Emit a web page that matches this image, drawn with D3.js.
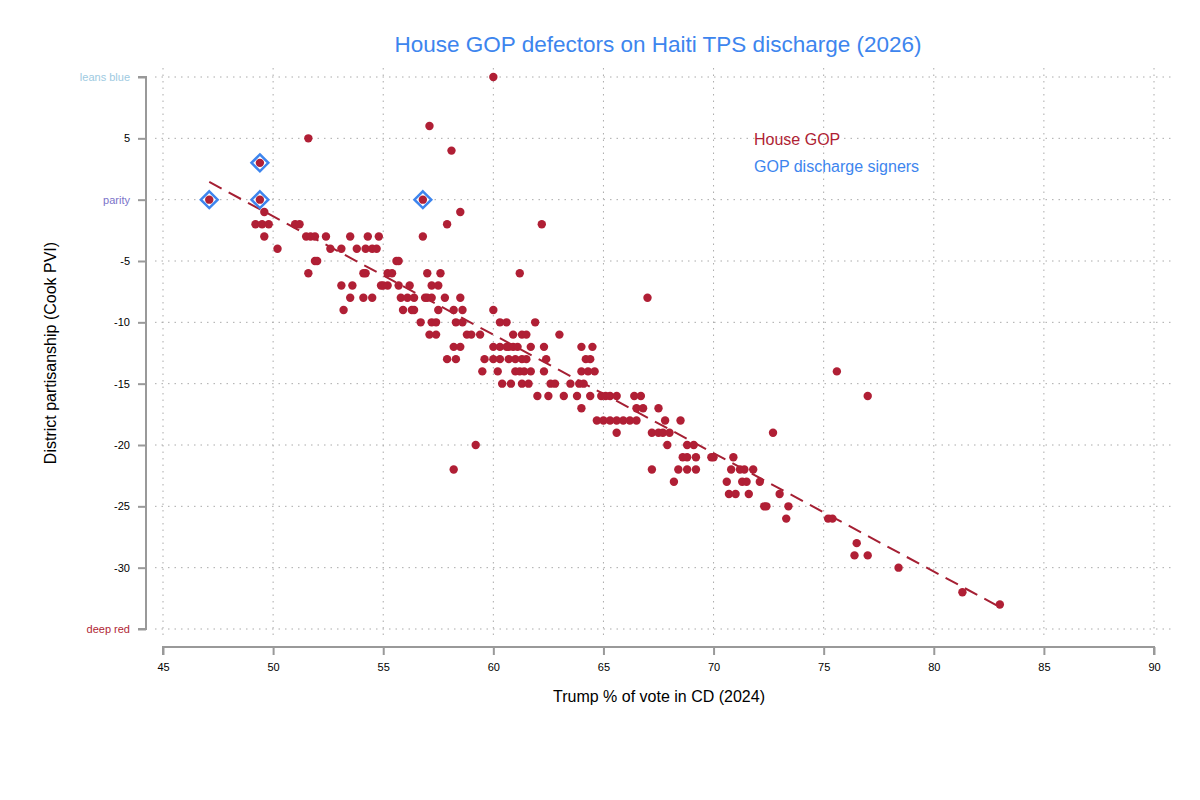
<!DOCTYPE html>
<html><head><meta charset="utf-8">
<script src="https://cdn.jsdelivr.net/npm/d3@7"></script>
<style>body{margin:0;background:#fff;font-family:"Helvetica Neue",Arial,"Liberation Sans",sans-serif}</style>
</head><body><svg id="c" width="1200" height="800"></svg>
<script>
// [PVI, list of Trump % values]
const rows = [
 [10,[60.0]],[6,[57.1]],[5,[51.6]],[4,[58.1]],[3,[49.4]],
 [0,[47.1,49.4,56.8]],
 [-1,[49.6,58.5]],
 [-2,[49.2,49.5,49.8,51.0,51.2,57.9,62.2]],
 [-3,[49.6,51.5,51.7,51.9,52.4,53.5,54.3,54.8,56.8]],
 [-4,[50.2,52.6,53.1,53.8,54.2,54.5,54.7]],
 [-5,[51.9,52.0,55.6,55.7]],
 [-6,[51.6,54.1,54.2,55.2,55.4,57.0,57.6,61.2]],
 [-7,[53.1,53.6,54.9,55.0,55.2,55.7,56.2,57.2,57.5]],
 [-8,[53.5,54.1,54.5,55.8,56.1,56.4,56.9,57.0,57.2,57.8,58.5,67.0]],
 [-9,[53.2,55.9,56.3,56.4,57.5,58.2,58.6,60.0]],
 [-10,[56.7,57.2,57.4,58.3,58.6,60.3,60.6,61.9]],
 [-11,[57.1,57.4,58.8,59.0,59.4,60.9,61.3,61.5,63.0]],
 [-12,[58.2,58.5,60.0,60.3,60.6,60.7,60.9,61.1,61.7,62.3,64.0,64.5]],
 [-13,[57.9,58.3,59.6,60.0,60.3,60.7,61.0,61.3,61.5,62.4,64.2,64.4]],
 [-14,[59.5,60.2,61.0,61.2,61.4,61.7,62.3,64.0,64.3,64.6,75.6]],
 [-15,[60.4,60.8,61.3,61.6,62.6,62.8,63.5,63.9,64.1]],
 [-16,[62.0,62.5,63.2,63.8,64.4,64.9,65.1,65.3,65.6,66.4,66.7,77.0]],
 [-17,[64.0,66.5,66.8,67.5]],
 [-18,[64.7,65.0,65.3,65.6,65.9,66.2,66.5,67.8,68.5]],
 [-19,[65.6,67.2,67.5,67.7,68.0,72.7]],
 [-20,[59.2,67.9,68.8,69.1]],
 [-21,[68.6,68.8,69.2,69.9,70.0,70.9]],
 [-22,[58.2,67.2,68.4,68.8,69.2,70.8,71.2,71.4,71.8]],
 [-23,[68.2,70.6,71.3,71.5,72.1]],
 [-24,[70.7,71.0,71.6,73.0]],
 [-25,[72.3,72.4,73.4]],
 [-26,[73.3,75.2,75.4]],
 [-28,[76.5]],[-29,[76.4,77.0]],[-30,[78.4]],[-32,[81.3]],[-33,[83.0]]
];
const signers = [[47.1,0],[49.4,0],[49.4,3],[56.8,0]];
const xTicks = [45,50,55,60,65,70,75,80,85,90];
const yTicks = [10,5,0,-5,-10,-15,-20,-25,-30,-35];
const yLabels = {10:"leans blue",0:"parity",[-35]:"deep red"};
const yLabelColors = {10:"#9ecae1",0:"#7b73c9",[-35]:"#b01f35"};

const pts = [];
rows.forEach(([y,xs])=>xs.forEach(x=>pts.push({x,y})));
const red="#b01f35", blue="#3d85ee";
const svg=d3.select("#c");
const x=d3.scaleLinear().domain([45,90]).range([163,1154]);
const y=d3.scaleLinear().domain([10,-35]).range([77,629]);

svg.append("g").selectAll("line").data(yTicks).join("line")
 .attr("x1",155).attr("x2",1172).attr("y1",d=>y(d)).attr("y2",d=>y(d))
 .attr("stroke","#aaa").attr("stroke-dasharray","1.5,5");
svg.append("g").selectAll("line").data(xTicks).join("line")
 .attr("y1",68).attr("y2",640).attr("x1",d=>x(d)).attr("x2",d=>x(d))
 .attr("stroke","#aaa").attr("stroke-dasharray","1.5,5");

const ya=svg.append("g").attr("transform","translate(146,0)")
 .call(d3.axisLeft(y).tickValues(yTicks).tickSize(8).tickFormat(d=>yLabels[d]||d));
ya.select(".domain").attr("stroke","#999").attr("stroke-width",2).attr("d",`M-8,${y(10)}H0V${y(-35)}H-8`);
ya.selectAll(".tick line").attr("stroke","#999").attr("stroke-width",2);
ya.selectAll("text").attr("font-size",11).attr("x",-16).attr("font-family","inherit")
 .attr("fill",d=>yLabelColors[d]||"#000");
const xa=svg.append("g").attr("transform","translate(0,647)")
 .call(d3.axisBottom(x).tickValues(xTicks).tickSize(8));
xa.select(".domain").attr("stroke","#999").attr("stroke-width",2).attr("d",`M${x(45)},8V0H${x(90)}V8`);
xa.selectAll(".tick line").attr("stroke","#999").attr("stroke-width",2);
xa.selectAll("text").attr("font-size",11).attr("dy","1.2em").attr("font-family","inherit").attr("fill","#000");

const mx=d3.mean(pts,d=>d.x), my=d3.mean(pts,d=>d.y);
const b=d3.sum(pts,d=>(d.x-mx)*(d.y-my))/d3.sum(pts,d=>(d.x-mx)**2);
const a=my-b*mx;
const [x0,x1]=d3.extent(pts,d=>d.x);
svg.append("line").attr("x1",x(x0)).attr("x2",x(x1)).attr("y1",y(a+b*x0)).attr("y2",y(a+b*x1))
 .attr("stroke","#a51f33").attr("stroke-width",2).attr("stroke-dasharray","14,8");

svg.append("g").selectAll("path").data(signers).join("path")
 .attr("d",d3.symbol(d3.symbolDiamond2,180))
 .attr("transform",d=>`translate(${x(d[0])},${y(d[1])})`)
 .attr("fill","#fff").attr("stroke",blue).attr("stroke-width",2.5);
svg.append("g").selectAll("circle").data(pts).join("circle")
 .attr("cx",d=>x(d.x)).attr("cy",d=>y(d.y)).attr("r",4.2).attr("fill",red);

svg.append("text").attr("x",658).attr("y",52).attr("text-anchor","middle").attr("font-size",22.5).attr("fill",blue)
 .text("House GOP defectors on Haiti TPS discharge (2026)");
svg.append("text").attr("x",754).attr("y",145).attr("font-size",16).attr("fill",red).text("House GOP");
svg.append("text").attr("x",754).attr("y",172).attr("font-size",16).attr("fill",blue).text("GOP discharge signers");
svg.append("text").attr("x",659).attr("y",702).attr("text-anchor","middle").attr("font-size",16).text("Trump % of vote in CD (2024)");
svg.append("text").attr("transform","translate(56,353) rotate(-90)").attr("text-anchor","middle").attr("font-size",16).text("District partisanship (Cook PVI)");
</script></body></html>
